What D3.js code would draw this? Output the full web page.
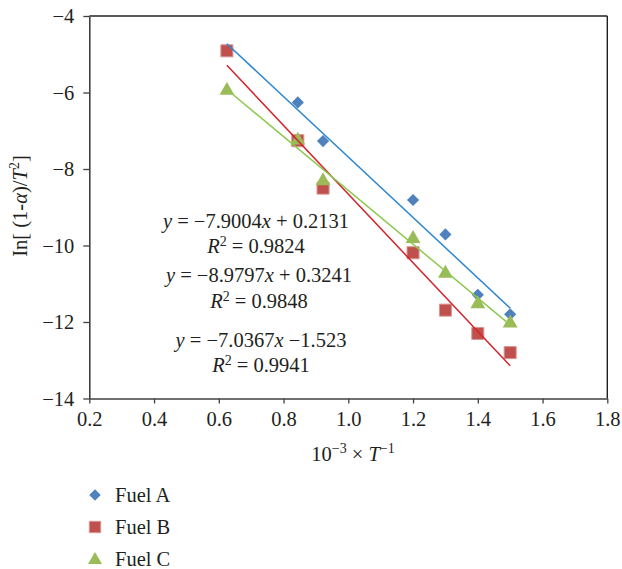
<!DOCTYPE html>
<html>
<head>
<meta charset="utf-8">
<script src="https://cdn.jsdelivr.net/npm/d3@7/dist/d3.min.js"></script>
<style>
  html, body { margin: 0; padding: 0; background: #fff; }
  svg text { font-family: "Liberation Serif", "DejaVu Serif", serif; fill: #231f20; }
</style>
</head>
<body>
<svg id="chart" width="622" height="569"></svg>
<script>
// Reciprocal temperature, 10^-3 x T^-1
const xValues = [0.625, 0.844, 0.922, 1.2, 1.3, 1.4, 1.5];

// ln[(1-α)/T²] for each fuel
const fuelA = [-4.91, -6.26, -7.27, -8.81, -9.71, -11.29, -11.80];
const fuelB = [-4.91, -7.26, -8.50, -10.19, -11.69, -12.30, -12.80];
const fuelC = [-5.95, -7.25, -8.31, -9.82, -10.73, -11.53, -12.03];

const seriesNames = ["Fuel A", "Fuel B", "Fuel C"];

// Linear fits: slope, intercept, R²
const fitSlopes = [-7.9004, -8.9797, -7.0367];
const fitIntercepts = [0.2131, 0.3241, -1.523];
const fitR2 = [0.9824, 0.9848, 0.9941];
const fitInterceptText = ["+ 0.2131", "+ 0.3241", "\u22121.523"];

const xTicks = [0.2, 0.4, 0.6, 0.8, 1.0, 1.2, 1.4, 1.6, 1.8];
const yTicks = [-4, -6, -8, -10, -12, -14];

const markerColors = ["#4F81BD", "#C0504D", "#9BBB59"];
const lineColors = ["#2E86CF", "#D4232C", "#8CC84F"];
const markerTypes = [d3.symbolDiamond2, d3.symbolSquare, d3.symbolTriangle];

const svg = d3.select("#chart");

const plotLeft = 89.3, plotRight = 607.3, plotTop = 16, plotBottom = 398.5;
const x = d3.scaleLinear().domain([0.2, 1.8]).range([plotLeft, plotRight]);
const y = d3.scaleLinear().domain([-14, -4]).range([plotBottom, plotTop]);

const fmt = v => d3.format(".1f")(v).replace("-", "\u2212");
const fmtY = v => String(v).replace("-", "\u2212");

const baseFont = 20.5, supFont = 14;

// Frame: top and right borders
svg.append("line").attr("x1", plotLeft).attr("x2", plotRight).attr("y1", plotTop).attr("y2", plotTop)
  .attr("stroke", "#231f20").attr("stroke-width", 1.4);
svg.append("line").attr("x1", plotRight).attr("x2", plotRight).attr("y1", plotTop).attr("y2", plotBottom)
  .attr("stroke", "#231f20").attr("stroke-width", 1.4);

// Axes
const xAxis = d3.axisBottom(x).tickValues(xTicks).tickFormat(fmt).tickSize(5).tickSizeOuter(0);
const yAxis = d3.axisLeft(y).tickValues(yTicks).tickFormat(fmtY).tickSize(6).tickSizeOuter(0);

const gx = svg.append("g").attr("transform", `translate(0,${plotBottom})`).call(xAxis);
const gy = svg.append("g").attr("transform", `translate(${plotLeft},0)`).call(yAxis);

[gx, gy].forEach(g => {
  g.select(".domain").attr("stroke", "#404040").attr("stroke-width", 1.6);
  g.selectAll(".tick line").attr("stroke", "#404040").attr("stroke-width", 1.3);
  g.selectAll(".tick text").attr("font-family", "Liberation Serif").attr("font-size", baseFont)
    .attr("fill", "#231f20");
});
gx.selectAll(".tick text").attr("dy", "1.0em").attr("y", 7);
gy.selectAll(".tick text").attr("x", -15).attr("dy", "0.34em");

// Markers
const allSeries = [fuelA, fuelB, fuelC];
allSeries.forEach((vals, i) => {
  const symbolSize = i === 0 ? 95 : (i === 1 ? 145 : 95);
  svg.append("g").selectAll("path")
    .data(vals.map((v, j) => ({ x: xValues[j], y: v })))
    .join("path")
    .attr("d", d3.symbol().type(markerTypes[i]).size(symbolSize))
    .attr("transform", d => `translate(${x(d.x)},${y(d.y)})`)
    .attr("fill", markerColors[i])
    .attr("stroke", i === 1 ? "#D99694" : "none")
    .attr("stroke-width", 1);
});

// Trend lines over the data range
const xMin = d3.min(xValues), xMax = d3.max(xValues);
fitSlopes.forEach((m, i) => {
  const b = fitIntercepts[i];
  svg.append("line")
    .attr("x1", x(xMin)).attr("y1", y(m * xMin + b))
    .attr("x2", x(xMax)).attr("y2", y(m * xMax + b))
    .attr("stroke", lineColors[i]).attr("stroke-width", 1.5);
});

// Fit equations
const eqPos = [
  { cx: 256, yEq: 228, yR: 253 },
  { cx: 259, yEq: 282, yR: 308 },
  { cx: 261, yEq: 347, yR: 372 }
];
fitSlopes.forEach((m, i) => {
  const p = eqPos[i];
  const t = svg.append("text").attr("x", p.cx).attr("y", p.yEq)
    .attr("text-anchor", "middle").attr("font-size", baseFont);
  t.append("tspan").attr("font-style", "italic").text("y");
  t.append("tspan").text(" = " + "\u2212" + Math.abs(m).toFixed(4));
  t.append("tspan").attr("font-style", "italic").text("x");
  t.append("tspan").text(" " + fitInterceptText[i]);

  const r = svg.append("text").attr("x", p.cx).attr("y", p.yR)
    .attr("text-anchor", "middle").attr("font-size", baseFont);
  r.append("tspan").attr("font-style", "italic").text("R");
  r.append("tspan").attr("font-size", supFont).attr("dy", -7).text("2");
  r.append("tspan").attr("dy", 7).text(" = " + fitR2[i].toFixed(4));
});

// Axis titles
const xt = svg.append("text").attr("x", 353).attr("y", 461)
  .attr("text-anchor", "middle").attr("font-size", baseFont);
xt.append("tspan").text("10");
xt.append("tspan").attr("font-size", supFont).attr("dy", -8).text("\u22123");
xt.append("tspan").attr("dy", 8).text(" \u00d7 ");
xt.append("tspan").attr("font-style", "italic").text("T");
xt.append("tspan").attr("font-size", supFont).attr("dy", -8).text("\u22121");

const yt = svg.append("text").attr("transform", "translate(27,206) rotate(-90)")
  .attr("text-anchor", "middle").attr("font-size", baseFont);
yt.append("tspan").text("In[ (1-");
yt.append("tspan").attr("font-style", "italic").text("\u03b1");
yt.append("tspan").text(")/");
yt.append("tspan").attr("font-style", "italic").text("T");
yt.append("tspan").attr("font-size", supFont).attr("dy", -8).text("2");
yt.append("tspan").attr("dy", 8).text("]");

// Legend
const legendY = [495, 527, 559];
seriesNames.forEach((name, i) => {
  svg.append("path")
    .attr("d", d3.symbol().type(markerTypes[i]).size(i === 1 ? 130 : 85))
    .attr("transform", `translate(95,${legendY[i] + (i === 2 ? 1 : 0)})`)
    .attr("fill", markerColors[i])
    .attr("stroke", i === 1 ? "#D99694" : "none");
  svg.append("text").attr("x", 115).attr("y", legendY[i]).attr("dy", "0.35em")
    .attr("font-size", baseFont).text(name);
});
</script>
</body>
</html>
